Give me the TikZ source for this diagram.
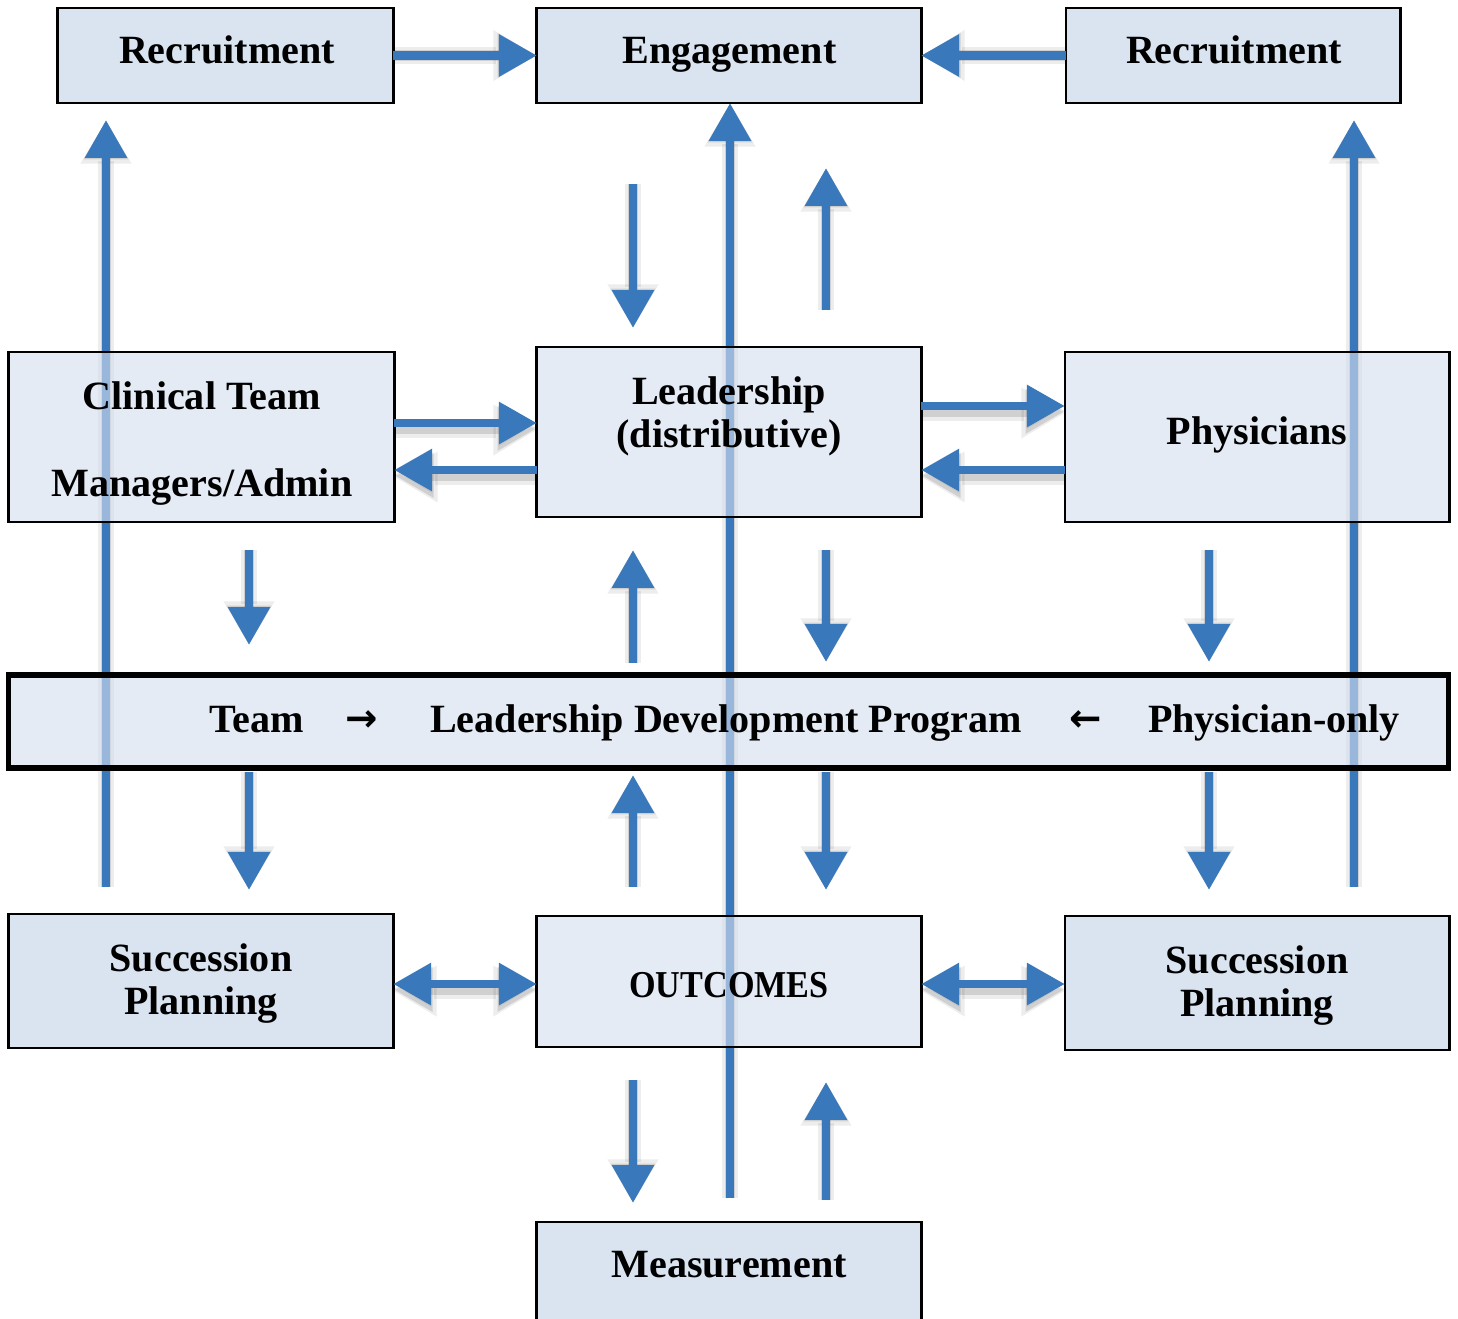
\documentclass[tikz,border=0pt]{standalone}
\usepackage{fontspec}
\setmainfont{Liberation Serif}
\newfontfamily\arrowfont{DejaVu Sans}
\usetikzlibrary{arrows.meta}
\definecolor{arrblue}{HTML}{3A78BC}
\definecolor{boxA}{HTML}{C3D4E8}
\definecolor{boxB}{HTML}{D3DEEE}
\tikzset{
  box/.style={draw=black, line width=0.8pt, fill opacity=0.62, text opacity=1, inner sep=0pt, outer sep=0pt},
  lbl/.style={anchor=base, inner sep=0pt, font=\fontsize{11.4}{13}\selectfont\bfseries},
  arrlbl/.style={anchor=base, inner sep=0pt, font=\arrowfont\bfseries\fontsize{11}{12}\selectfont},
  arr/.style={draw=arrblue, line width=2.5pt, -{Triangle[width=11.4pt,length=10.8pt]}},
  arrshadowA/.style={draw=black, draw opacity=0.07, fill opacity=0.07, line width=4.6pt, -{Triangle[width=13.6pt,length=12.4pt]}, xshift=1.6pt, yshift=-2.0pt},
  arrshadowB/.style={draw=black, draw opacity=0.12, fill opacity=0.12, line width=3.0pt, -{Triangle[width=12.0pt,length=11.2pt]}, xshift=1.2pt, yshift=-1.5pt},
  dbl/.style={{Triangle[width=11.4pt,length=10.8pt]}-{Triangle[width=11.4pt,length=10.8pt]}},
  dblshadowA/.style={{Triangle[width=13.6pt,length=12.4pt]}-{Triangle[width=13.6pt,length=12.4pt]}},
  dblshadowB/.style={{Triangle[width=12.0pt,length=11.2pt]}-{Triangle[width=12.0pt,length=11.2pt]}}
}
\newcommand\shadedarrow[2]{%
  \draw[arrshadowA] #1 -- #2;
  \draw[arrshadowB] #1 -- #2;
  \draw[arr] #1 -- #2;}
\newcommand\shadeddbl[2]{%
  \draw[arrshadowA,dblshadowA] #1 -- #2;
  \draw[arrshadowB,dblshadowB] #1 -- #2;
  \draw[arr,dbl] #1 -- #2;}
\begin{document}
\begin{tikzpicture}[x=0.01cm, y=-0.01cm]
\useasboundingbox (0,0) rectangle (1458,1318);

% coordinates
\coordinate (cstart) at (730,1198);
\coordinate (lstart) at (106,887);
\coordinate (lend) at (106,120);
\coordinate (rstart) at (1354,887);
\coordinate (rend) at (1354,120);

\coordinate (v1s) at (633,184);  \coordinate (v1e) at (633,328);
\coordinate (v2s) at (826,310);  \coordinate (v2e) at (826,168);
\coordinate (v3s) at (249,550);  \coordinate (v3e) at (249,645);
\coordinate (v4s) at (633,663);  \coordinate (v4e) at (633,550);
\coordinate (v5s) at (826,550);  \coordinate (v5e) at (826,662);
\coordinate (v6s) at (1209,550); \coordinate (v6e) at (1209,662);
\coordinate (v7s) at (249,772);  \coordinate (v7e) at (249,890);
\coordinate (v8s) at (633,887);  \coordinate (v8e) at (633,775);
\coordinate (v9s) at (826,772);  \coordinate (v9e) at (826,890);
\coordinate (v10s) at (1209,772); \coordinate (v10e) at (1209,890);
\coordinate (v11s) at (633,1080); \coordinate (v11e) at (633,1203);
\coordinate (v12s) at (826,1200); \coordinate (v12e) at (826,1082);

% long lines (behind boxes)
\coordinate (engbot) at (730,103);
\shadedarrow{(cstart)}{(engbot)}
\shadedarrow{(lstart)}{(lend)}
\shadedarrow{(rstart)}{(rend)}

% boxes
\node[box, fill=boxA, minimum width=3.35cm, minimum height=0.95cm] (rl) at (225.5,55.5) {};
\node[box, fill=boxA, minimum width=3.84cm, minimum height=0.95cm] (eng) at (729,55.5) {};
\node[box, fill=boxA, minimum width=3.34cm, minimum height=0.95cm] (rr) at (1233,55.5) {};
\node[box, fill=boxB, minimum width=3.85cm, minimum height=1.70cm] (cl) at (201.5,437) {};
\node[box, fill=boxB, minimum width=3.84cm, minimum height=1.70cm] (ld) at (729,432) {};
\node[box, fill=boxB, minimum width=3.84cm, minimum height=1.70cm] (ph) at (1257,437) {};
\node[box, fill=boxB, line width=1.5pt, minimum width=14.39cm, minimum height=0.93cm] (bar) at (728.5,721.5) {};
\node[box, fill=boxA, minimum width=3.84cm, minimum height=1.34cm] (spl) at (201,981) {};
\node[box, fill=boxB, minimum width=3.84cm, minimum height=1.31cm] (out) at (729,981.5) {};
\node[box, fill=boxA, minimum width=3.84cm, minimum height=1.34cm] (spr) at (1257,983) {};
\node[box, fill=boxA, minimum width=3.84cm, minimum height=1.06cm] (meas) at (729,1275) {};

% labels
\node[lbl] (t1) at (227,64) {Recruitment};
\node[lbl] (t2) at (729.5,64) {Engagement};
\node[lbl] (t3) at (1234,64) {Recruitment};
\node[lbl] (t4) at (201.5,409) {Clinical Team};
\node[lbl] (t5) at (202,496) {Managers/Admin};
\node[lbl] (t6) at (729,404) {Leadership};
\node[lbl] (t7) at (729,447) {(distributive)};
\node[lbl] (t8) at (1257,444) {Physicians};
\node[lbl] (t9) at (257,732) {Team};
\node[arrlbl] (t10) at (362,731) {→};
\node[lbl] (t11) at (726,732) {Leadership Development Program};
\node[arrlbl] (t12) at (1086,731) {←};
\node[lbl] (t13) at (1274,732) {Physician-only};
\node[lbl] (t14) at (201,971) {Succession};
\node[lbl] (t15) at (201,1014) {Planning};
\node[lbl, font=\fontsize{10.8}{13}\selectfont\bfseries] (t16) at (729,997) {\scalebox{0.9}[1]{OUTCOMES}};
\node[lbl] (t17) at (1257,973) {Succession};
\node[lbl] (t18) at (1257,1016) {Planning};
\node[lbl] (t19) at (729,1277) {Measurement};

% horizontal arrows
\shadedarrow{(rl.east)}{(eng.west)}
\shadedarrow{(rr.west)}{(eng.east)}
\shadedarrow{(cl.east |- 0,423)}{(ld.west |- 0,423)}
\shadedarrow{(ld.west |- 0,470)}{(cl.east |- 0,470)}
\shadedarrow{(ld.east |- 0,406)}{(ph.west |- 0,406)}
\shadedarrow{(ph.west |- 0,470)}{(ld.east |- 0,470)}
\shadeddbl{(spl.east |- 0,984)}{(out.west |- 0,984)}
\shadeddbl{(out.east |- 0,984)}{(spr.west |- 0,984)}

% vertical short arrows
\shadedarrow{(v1s)}{(v1e)}
\shadedarrow{(v2s)}{(v2e)}
\shadedarrow{(v3s)}{(v3e)}
\shadedarrow{(v4s)}{(v4e)}
\shadedarrow{(v5s)}{(v5e)}
\shadedarrow{(v6s)}{(v6e)}
\shadedarrow{(v7s)}{(v7e)}
\shadedarrow{(v8s)}{(v8e)}
\shadedarrow{(v9s)}{(v9e)}
\shadedarrow{(v10s)}{(v10e)}
\shadedarrow{(v11s)}{(v11e)}
\shadedarrow{(v12s)}{(v12e)}
\end{tikzpicture}
\end{document}
